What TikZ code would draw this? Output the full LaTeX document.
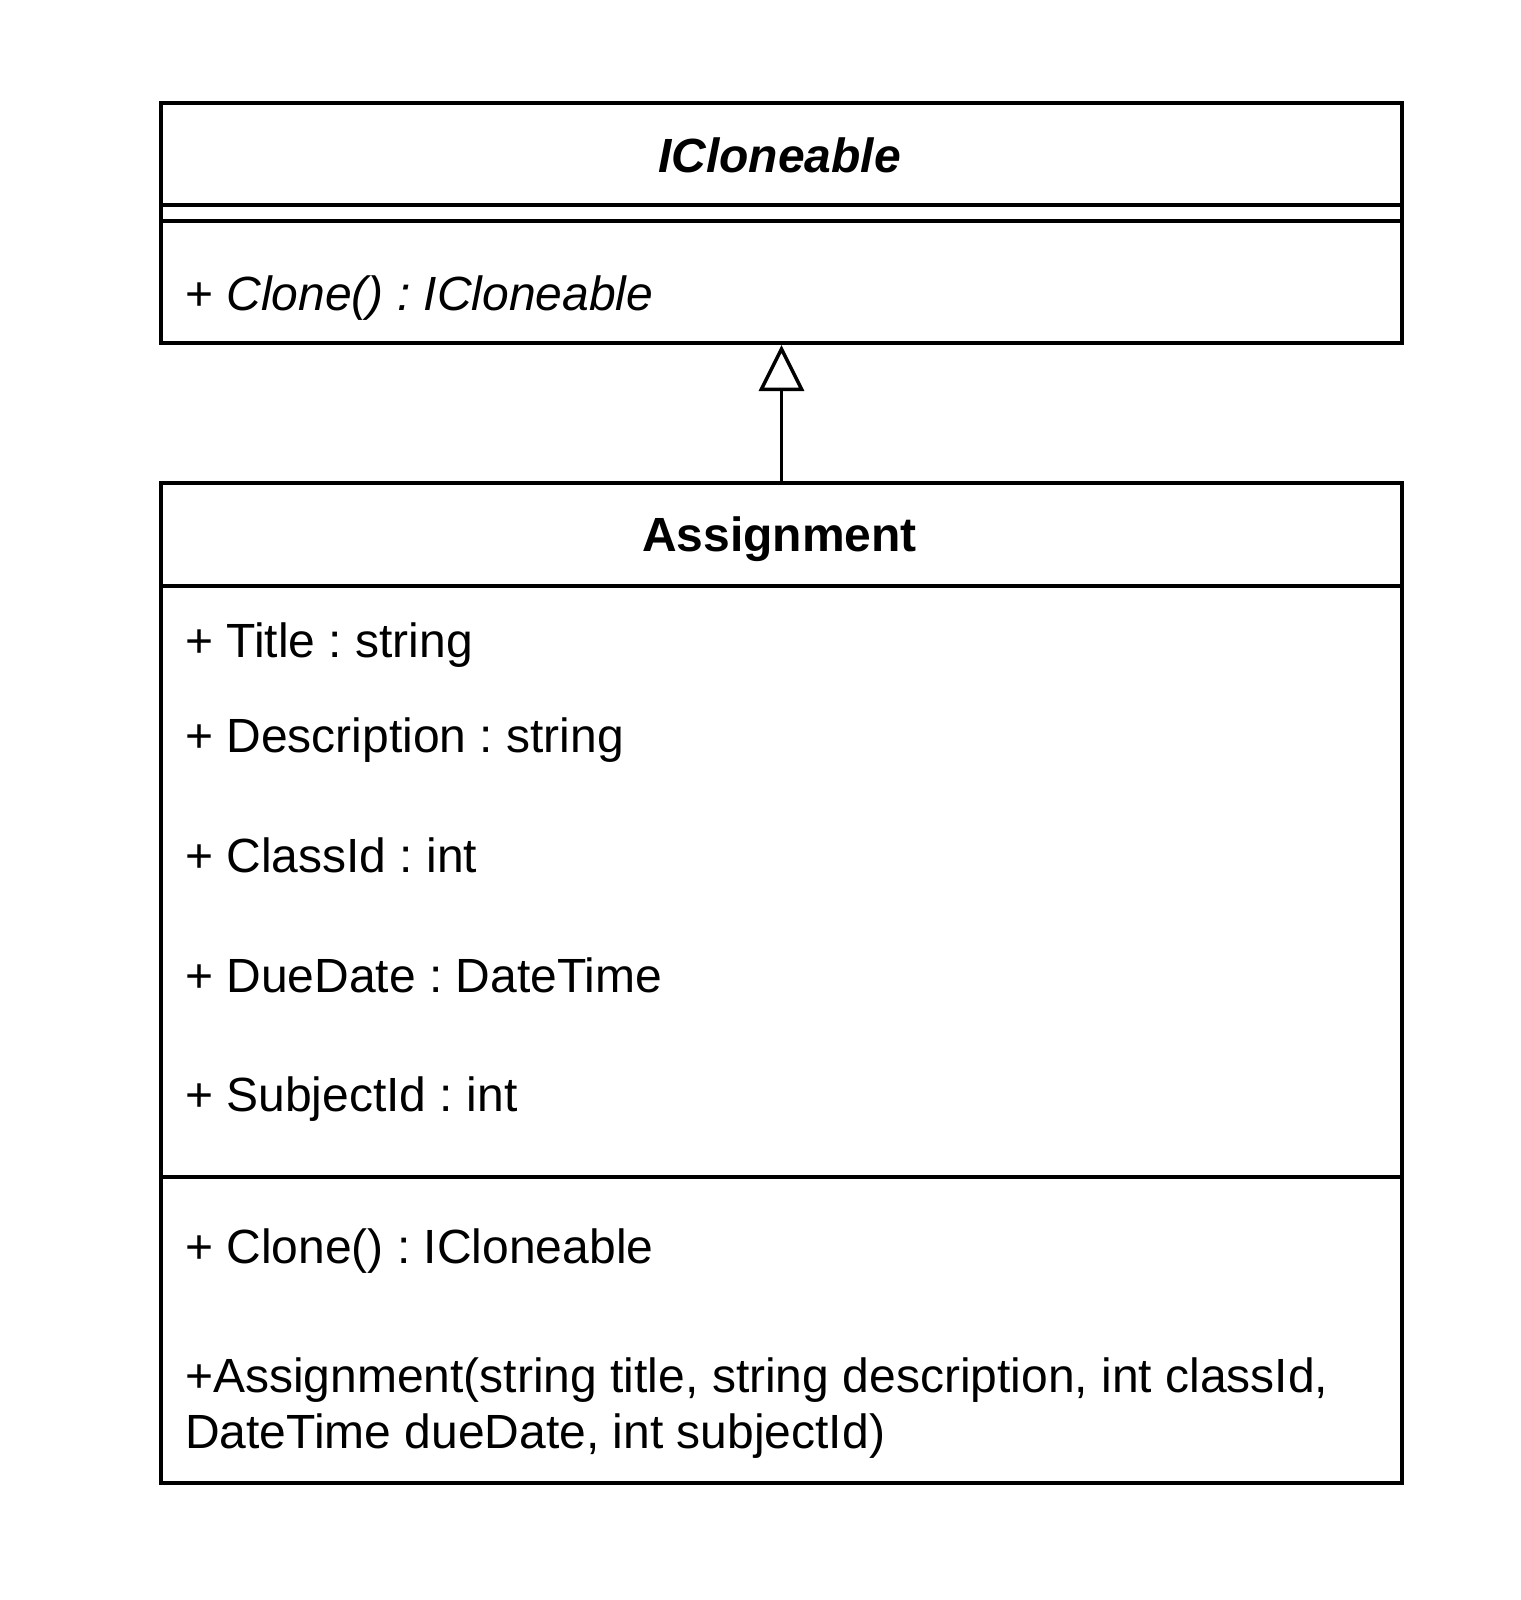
\documentclass[tikz,border=0pt]{standalone}
\usepackage{fontspec}
\setmainfont{Liberation Sans}
\usetikzlibrary{arrows.meta}
\frenchspacing
\begin{document}
\begin{tikzpicture}[x=1pt,y=-1pt,
  umlbox/.style={draw, line width=4pt, anchor=north west, inner sep=0pt},
  sepline/.style={line width=4pt},
  member/.style={anchor=base west, inner sep=0pt, font=\fontsize{48}{56}\selectfont},
  title/.style={anchor=base, inner sep=0pt, font=\fontsize{48}{56}\selectfont\bfseries},
  realize/.style={line width=3.5pt, -{Triangle[open, length=46pt, width=45pt]}}]
\useasboundingbox (0,0) rectangle (1520,1600);
% ICloneable
\node[umlbox, minimum width=1241pt, minimum height=240pt] (icl) at (159,101) {};
\draw[sepline] (159,204.5) -- (1400,204.5);
\draw[sepline] (159,220.5) -- (1400,220.5);
\node[title] (iclname) at (779.5,172) {\itshape ICloneable};
\node[member] (iclclone) at (185,310) {+ \itshape Clone() : ICloneable};
% Assignment
\node[umlbox, minimum width=1241pt, minimum height=999.5pt] (asg) at (159,481) {};
\draw[sepline] (159,585.5) -- (1400,585.5);
\draw[sepline] (159,1177) -- (1400,1177);
\node[title] (asgname) at (779.5,551.5) {Assignment};
\node[member] (a1) at (185,657) {+ Title : string};
\node[member] (a2) at (185,752.5) {+ Description : string};
\node[member] (a3) at (185,872) {+ ClassId : int};
\node[member] (a4) at (185,992) {+ DueDate : DateTime};
\node[member] (a5) at (185,1111.5) {+ SubjectId : int};
\node[member] (m1) at (185,1263.5) {+ Clone() : ICloneable};
\node[member] (m2) at (185,1392) {+Assignment(string title, string description, int classId,};
\node[member] (m3) at (185,1448) {DateTime dueDate, int subjectId)};
% realization
\draw[realize] (asg.north) -- (icl.south);
\end{tikzpicture}
\end{document}
